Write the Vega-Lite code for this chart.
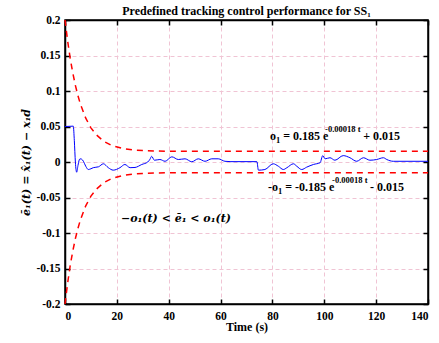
{
  "$schema": "https://vega.github.io/schema/vega-lite/v6.json",
  "width": 363,
  "height": 284,
  "autosize": "none",
  "padding": {"left": 65, "top": 20, "right": 11, "bottom": 39},
  "background": "white",
  "config": {
    "view": {"stroke": "black", "strokeWidth": 1.5},
    "axis": {
      "domainColor": "black", "domainWidth": 1.5,
      "tickColor": "black", "tickWidth": 1.5, "tickSize": -5,
      "labelFont": "Liberation Serif", "labelFontWeight": "bold", "labelFontSize": 11.5, "labelColor": "black",
      "titleFont": "Liberation Serif", "titleFontWeight": "bold", "titleFontSize": 12, "titleColor": "black",
      "gridColor": "#f0c4d4", "gridDash": [4, 3], "gridWidth": 1
    }
  },
  "title": {"text": "Predefined tracking control performance for SS₁", "font": "Liberation Serif", "fontWeight": "bold", "fontSize": 12, "color": "black", "offset": -4, "anchor": "middle"},
  "datasets": {
    "upper": [
      {"t": 0, "v": 0.2}, {"t": 1, "v": 0.171}, {"t": 2, "v": 0.146}, {"t": 3, "v": 0.1255}, {"t": 4, "v": 0.108},
      {"t": 5, "v": 0.0933}, {"t": 6, "v": 0.0809}, {"t": 8, "v": 0.0617}, {"t": 10, "v": 0.0481}, {"t": 12, "v": 0.0385},
      {"t": 15, "v": 0.029}, {"t": 18, "v": 0.0234}, {"t": 22, "v": 0.0192}, {"t": 26, "v": 0.0171}, {"t": 30, "v": 0.0161},
      {"t": 35, "v": 0.0155}, {"t": 40, "v": 0.0152}, {"t": 50, "v": 0.015}, {"t": 140, "v": 0.015}
    ],
    "lower": [
      {"t": 0, "v": -0.2}, {"t": 1, "v": -0.171}, {"t": 2, "v": -0.146}, {"t": 3, "v": -0.1255}, {"t": 4, "v": -0.108},
      {"t": 5, "v": -0.0933}, {"t": 6, "v": -0.0809}, {"t": 8, "v": -0.0617}, {"t": 10, "v": -0.0481}, {"t": 12, "v": -0.0385},
      {"t": 15, "v": -0.029}, {"t": 18, "v": -0.0234}, {"t": 22, "v": -0.0192}, {"t": 26, "v": -0.0171}, {"t": 30, "v": -0.0161},
      {"t": 35, "v": -0.0155}, {"t": 40, "v": -0.0152}, {"t": 50, "v": -0.015}, {"t": 140, "v": -0.015}
    ],
    "error": [
      {"t": 0, "v": 0.05}, {"t": 3.2, "v": 0.0505}, {"t": 3.6, "v": 0.03}, {"t": 4.0, "v": 0.0}, {"t": 4.5, "v": -0.0144},
      {"t": 5.0, "v": -0.005}, {"t": 5.5, "v": 0.003}, {"t": 5.8, "v": 0.0045}, {"t": 6.4, "v": 0.004}, {"t": 7.1, "v": 0.001},
      {"t": 8.0, "v": -0.006}, {"t": 9.0, "v": -0.0106}, {"t": 10.0, "v": -0.0095}, {"t": 10.9, "v": -0.008}, {"t": 12.9, "v": -0.0068},
      {"t": 14.8, "v": -0.0025}, {"t": 16.7, "v": -0.008}, {"t": 18.6, "v": -0.0115}, {"t": 21.2, "v": -0.008}, {"t": 23.1, "v": -0.0035},
      {"t": 25.1, "v": -0.008}, {"t": 27, "v": -0.0077}, {"t": 29.6, "v": -0.0035}, {"t": 31.9, "v": 0}, {"t": 32.8, "v": 0.004},
      {"t": 33.4, "v": 0.008}, {"t": 34.5, "v": 0.0025}, {"t": 36.6, "v": 0.0035}, {"t": 38.6, "v": 0.001}, {"t": 41.2, "v": 0.0073},
      {"t": 43.7, "v": 0.0035}, {"t": 46.3, "v": 0.0045}, {"t": 48.9, "v": 0.0003}, {"t": 51.4, "v": 0.0045}, {"t": 54, "v": 0.001},
      {"t": 56.6, "v": 0.0045}, {"t": 59.1, "v": 0.0045}, {"t": 61.7, "v": 0.001}, {"t": 64, "v": 0.0005}, {"t": 74, "v": 0.0005},
      {"t": 74.6, "v": -0.0115}, {"t": 77.1, "v": -0.0106}, {"t": 80.3, "v": -0.0025}, {"t": 82.3, "v": -0.006}, {"t": 84.2, "v": -0.0106},
      {"t": 85.6, "v": -0.008}, {"t": 88.1, "v": -0.0025}, {"t": 89.4, "v": -0.006}, {"t": 91.3, "v": -0.0106}, {"t": 93.2, "v": -0.0073},
      {"t": 95.8, "v": -0.0035}, {"t": 98.4, "v": -0.001}, {"t": 99.4, "v": 0.009}, {"t": 100.3, "v": 0.0045}, {"t": 102.2, "v": 0.006},
      {"t": 104.1, "v": 0.0025}, {"t": 107.3, "v": 0.009}, {"t": 109.9, "v": 0.006}, {"t": 112.5, "v": 0.001}, {"t": 115.1, "v": 0.006},
      {"t": 117.6, "v": 0.0025}, {"t": 120.2, "v": 0.0035}, {"t": 122.8, "v": 0.006}, {"t": 124.1, "v": 0.0035}, {"t": 126.6, "v": 0.001},
      {"t": 140, "v": 0.001}
    ],
    "mainText": [
      {"t": 79.06, "v": 0.03099, "label": "o"},
      {"t": 84.17, "v": 0.03099, "label": "= 0.185 e"},
      {"t": 115.0, "v": 0.03099, "label": "+ 0.015"},
      {"t": 78.29, "v": -0.04085, "label": "-o"},
      {"t": 84.94, "v": -0.04085, "label": "= -0.185 e"},
      {"t": 117.6, "v": -0.04085, "label": "- 0.015"}
    ],
    "smallText": [
      {"t": 81.38, "v": 0.02676, "label": "1"},
      {"t": 100.3, "v": 0.04225, "label": "-0.00018 t"},
      {"t": 82.15, "v": -0.04507, "label": "1"},
      {"t": 103.0, "v": -0.02958, "label": "-0.00018 t"}
    ],
    "ineq": [
      {"t": 42.8, "v": -0.0841, "label": "−o₁(t) < ē₁ < o₁(t)"}
    ]
  },
  "layer": [
    {
      "data": {"name": "upper"},
      "mark": {"type": "line", "color": "#ff0000", "strokeWidth": 1.5, "strokeDash": [6, 5]},
      "encoding": {
        "x": {"field": "t", "type": "quantitative", "scale": {"domain": [0, 140], "nice": false},
              "axis": {"orient": "bottom", "values": [0, 20, 40, 60, 80, 100, 120, 140], "title": "Time (s)", "labelPadding": 11, "titlePadding": 0, "grid": true}},
        "y": {"field": "v", "type": "quantitative", "scale": {"domain": [-0.2, 0.2], "nice": false},
              "axis": {"orient": "left", "values": [-0.2, -0.15, -0.1, -0.05, 0, 0.05, 0.1, 0.15, 0.2],
                       "labelExpr": "datum.value == 0 ? '0' : replace(format(datum.value, '.2~f'), '−', '-')",
                       "title": "ē₁(t) = x̂₁(t) − x₁d", "titleFont": "DejaVu Serif", "titleFontStyle": "italic", "titleFontSize": 11,
                       "labelPadding": 10, "titlePadding": 5, "grid": true}}
      }
    },
    {
      "data": {"name": "lower"},
      "mark": {"type": "line", "color": "#ff0000", "strokeWidth": 1.5, "strokeDash": [6, 5]},
      "encoding": {
        "x": {"field": "t", "type": "quantitative", "scale": {"domain": [0, 140], "nice": false},
              "axis": {"orient": "top", "values": [0, 20, 40, 60, 80, 100, 120, 140], "labels": false, "title": null, "grid": false}},
        "y": {"field": "v", "type": "quantitative", "scale": {"domain": [-0.2, 0.2], "nice": false},
              "axis": {"orient": "right", "values": [-0.2, -0.15, -0.1, -0.05, 0, 0.05, 0.1, 0.15, 0.2], "labels": false, "title": null, "grid": false}}
      }
    },
    {
      "data": {"name": "error"},
      "mark": {"type": "line", "color": "#0000ff", "strokeWidth": 1, "interpolate": "monotone"},
      "encoding": {
        "x": {"field": "t", "type": "quantitative", "axis": null},
        "y": {"field": "v", "type": "quantitative", "axis": null}
      }
    },
    {
      "data": {"name": "mainText"},
      "mark": {"type": "text", "font": "Liberation Serif", "fontWeight": "bold", "fontSize": 12, "align": "left", "baseline": "alphabetic", "color": "black"},
      "encoding": {
        "x": {"field": "t", "type": "quantitative", "axis": null},
        "y": {"field": "v", "type": "quantitative", "axis": null},
        "text": {"field": "label"}
      }
    },
    {
      "data": {"name": "smallText"},
      "mark": {"type": "text", "font": "Liberation Serif", "fontWeight": "bold", "fontSize": 8.5, "align": "left", "baseline": "alphabetic", "color": "black"},
      "encoding": {
        "x": {"field": "t", "type": "quantitative", "axis": null},
        "y": {"field": "v", "type": "quantitative", "axis": null},
        "text": {"field": "label"}
      }
    },
    {
      "data": {"name": "ineq"},
      "mark": {"type": "text", "font": "DejaVu Serif", "fontWeight": "bold", "fontStyle": "italic", "fontSize": 11, "align": "center", "baseline": "alphabetic", "color": "black"},
      "encoding": {
        "x": {"field": "t", "type": "quantitative", "axis": null},
        "y": {"field": "v", "type": "quantitative", "axis": null},
        "text": {"field": "label"}
      }
    }
  ],
  "resolve": {"axis": {"x": "independent", "y": "independent"}}
}
